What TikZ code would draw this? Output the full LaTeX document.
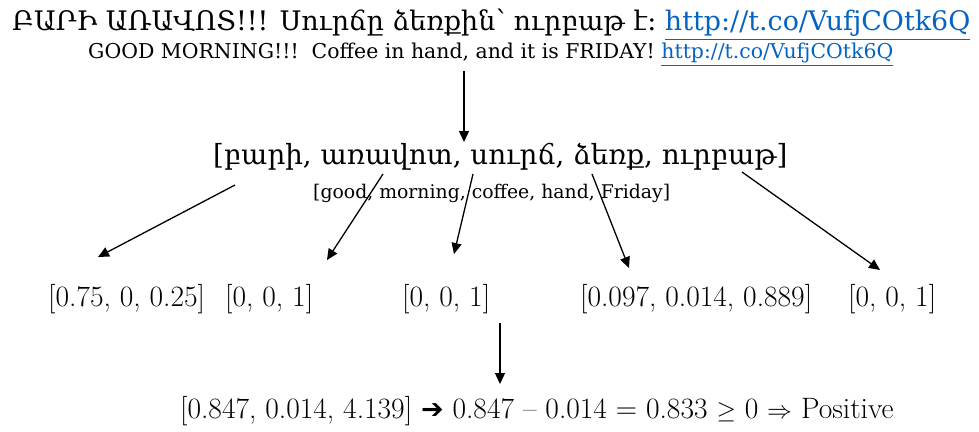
\documentclass[tikz,border=0pt]{standalone}
\usepackage{fontspec}
\usepackage{graphicx}
\usetikzlibrary{arrows.meta}
\newfontfamily\armfont{DejaVu Serif}
\newfontfamily\symfont{DejaVu Sans}
\definecolor{linkblue}{RGB}{5,99,193}
\newcommand{\mylink}[1]{\textcolor{linkblue}{\underline{#1}}}
\begin{document}
\begin{tikzpicture}[x=1pt,y=-1pt,
  txt/.style={inner sep=0pt, anchor=base west},
  num/.style={txt, font=\fontsize{29.5}{32}\selectfont},
  arr/.style={line width=1.3pt, -{Triangle[length=11pt,width=10pt]}}]
\useasboundingbox (0,0) rectangle (979,431);
\node[txt] (tweet) at (12,30) {\resizebox{958pt}{!}{\armfont ԲԱՐԻ ԱՌԱՎՈՏ!!! Սուրճը ձեռքին՝ ուրբաթ է։ \mylink{http://t.co/VufjCOtk6Q}}};
\node[txt] (trans) at (88,58) {\resizebox{805pt}{!}{\armfont GOOD MORNING!!!\ \ Coffee in hand, and it is FRIDAY! \mylink{http://t.co/VufjCOtk6Q}}};
\node[txt] (armlist) at (213,164) {\resizebox{574pt}{!}{\armfont [բարի, առավոտ, սուրճ, ձեռք, ուրբաթ]}};
\node[txt] (englist) at (313,198) {\resizebox{357pt}{!}{\armfont [good, morning, coffee, hand, Friday]}};
\node[num] (v1) at (48,306) {[0.75, 0, 0.25]};
\node[num] (v2) at (225,306) {[0, 0, 1]};
\node[num] (v3) at (402,306) {[0, 0, 1]};
\node[num] (v4) at (580,306) {[0.097, 0.014, 0.889]};
\node[num] (v5) at (848,306) {[0, 0, 1]};
\node[num] (res) at (180,418) {[0.847, 0.014, 4.139] {\symfont\fontsize{27}{30}\selectfont ➔} 0.847 – 0.014 = 0.833 $\geq$ 0 $\Rightarrow$ Positive};
\coordinate (t0) at (464,71);   \coordinate (t1) at (464,142);
\coordinate (a1s) at (235,185); \coordinate (a1e) at (98,257);
\coordinate (a2s) at (383,174); \coordinate (a2e) at (327,260);
\coordinate (a3s) at (473,174); \coordinate (a3e) at (454,254);
\coordinate (a4s) at (592,174); \coordinate (a4e) at (629,268);
\coordinate (a5s) at (742,172); \coordinate (a5e) at (880,270);
\coordinate (b0) at (500,323);  \coordinate (b1) at (500,384);
\draw[arr] (t0) -- (t1);
\draw[arr] (a1s) -- (a1e);
\draw[arr] (a2s) -- (a2e);
\draw[arr] (a3s) -- (a3e);
\draw[arr] (a4s) -- (a4e);
\draw[arr] (a5s) -- (a5e);
\draw[arr] (b0) -- (b1);
\end{tikzpicture}
\end{document}
